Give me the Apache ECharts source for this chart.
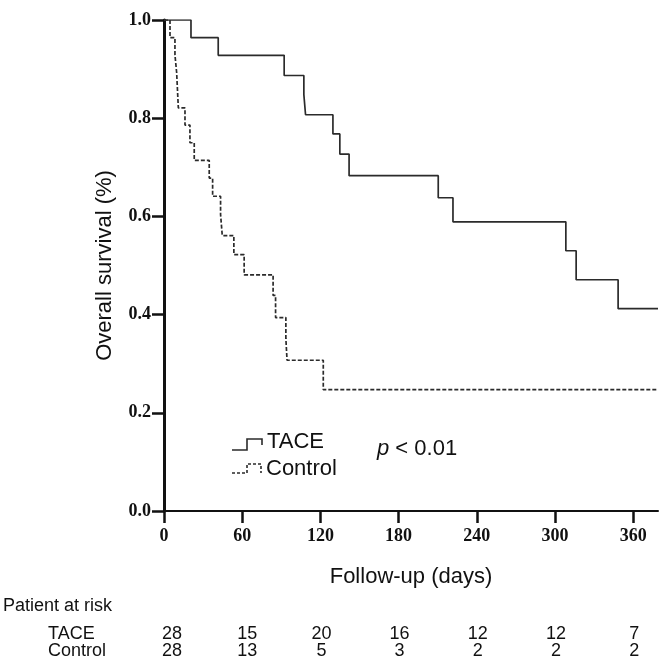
<!DOCTYPE html>
<html>
<head>
<meta charset="utf-8">
<script src="https://cdn.jsdelivr.net/npm/echarts@6/dist/echarts.min.js"></script>
<style>
html,body{margin:0;padding:0;background:#fff;}
#c{width:666px;height:657px;}
</style>
</head>
<body>
<div id="c"></div>
<script>
// ---- data ----
const xTicks = [0, 60, 120, 180, 240, 300, 360];
const taceDays = [0, 20.7, 41.6, 92.2, 107.3, 108.6, 129.6, 134.9, 142, 210.4, 221.7, 308.3, 316.2, 348.4, 379];
const taceSurv = [1, 0.964, 0.928, 0.887, 0.848, 0.807, 0.768, 0.727, 0.683, 0.638, 0.589, 0.530, 0.471, 0.412, 0.412];
const ctrlDays = [0, 4.6, 8.4, 9.7, 11.0, 16.1, 19.9, 23.2, 34.7, 37.3, 43.4, 44.7, 53.6, 61.5, 83.7, 85.6, 93.5, 94.4, 122.2, 379];
const ctrlSurv = [1, 0.964, 0.929, 0.893, 0.821, 0.786, 0.750, 0.714, 0.678, 0.641, 0.604, 0.561, 0.522, 0.481, 0.439, 0.394, 0.351, 0.307, 0.247, 0.247];
const riskGroups = ['TACE', 'Control'];
const riskTACE = [28, 15, 20, 16, 12, 12, 7];
const riskControl = [28, 13, 5, 3, 2, 2, 2];

const zip = (a, b) => a.map((v, i) => [v, b[i]]);
const serif = '"Liberation Serif", "Times New Roman", serif';
const sans = '"Liberation Sans", Arial, sans-serif';

const chart = echarts.init(document.getElementById('c'), null, {renderer: 'canvas'});
chart.setOption({
  backgroundColor: '#fff',
  animation: false,
  grid: {left: 164, right: 8, top: 20, bottom: 146, containLabel: false},
  xAxis: {
    type: 'value', min: 0, max: 379, interval: 60,
    name: 'Follow-up (days)', nameLocation: 'middle', nameGap: 55,
    nameTextStyle: {fontFamily: sans, fontSize: 22, color: '#111'},
    axisLine: {lineStyle: {color: '#111', width: 2}},
    axisTick: {length: 12, lineStyle: {color: '#111', width: 2.5}},
    axisLabel: {fontFamily: serif, fontWeight: 'bold', fontSize: 18, color: '#111', margin: 16,
      showMaxLabel: false, formatter: v => (v % 60 === 0 ? String(v) : '')},
    splitLine: {show: false}
  },
  yAxis: {
    type: 'value', min: 0, max: 1, interval: 0.2,
    name: 'Overall survival (%)', nameLocation: 'middle', nameGap: 48, nameRotate: 90,
    nameTextStyle: {fontFamily: sans, fontSize: 22, color: '#111'},
    axisLine: {show: true, lineStyle: {color: '#111', width: 3}},
    axisTick: {show: true, length: 12, lineStyle: {color: '#111', width: 2.5}},
    axisLabel: {fontFamily: serif, fontWeight: 'bold', fontSize: 18, color: '#111', margin: 13,
      formatter: v => v.toFixed(1)},
    splitLine: {show: false}
  },
  series: [
    {name: 'TACE', type: 'line', step: 'end', showSymbol: false, data: zip(taceDays, taceSurv),
      lineStyle: {color: '#2b2b2b', width: 1.7}, z: 3},
    {name: 'Control', type: 'line', step: 'end', showSymbol: false, data: zip(ctrlDays, ctrlSurv),
      lineStyle: {color: '#2b2b2b', width: 1.7, type: [4, 2]}, z: 2}
  ]
});

const g = [];
// legend
g.push({type: 'polyline', shape: {points: [[232, 450], [247, 450], [247, 439], [262, 439], [262, 445]]},
  style: {stroke: '#2b2b2b', lineWidth: 1.6, fill: null}});
g.push({type: 'polyline', shape: {points: [[232, 473], [247, 473], [247, 464], [261, 464], [261, 473]]},
  style: {stroke: '#2b2b2b', lineWidth: 1.6, fill: null, lineDash: [3, 2]}});
g.push({type: 'text', left: 267, top: 431, style: {text: 'TACE', font: '22px ' + sans, fill: '#111'}});
g.push({type: 'text', left: 266, top: 458, style: {text: 'Control', font: '22px ' + sans, fill: '#111'}});
g.push({type: 'text', left: 377, top: 438, style: {text: '{i|p} < 0.01', font: '22px ' + sans, fill: '#111',
  rich: {i: {fontStyle: 'italic', fontFamily: sans, fontSize: 22, fill: '#111'}}}});
// risk table
g.push({type: 'text', left: 3, top: 597, style: {text: 'Patient at risk', font: '18px ' + sans, fill: '#111'}});
const rows = [riskTACE, riskControl];
const rowY = [634, 651];
rows.forEach((row, r) => {
  g.push({type: 'text', x: 48, y: rowY[r], style: {text: riskGroups[r], font: '18px ' + sans, fill: '#111', textVerticalAlign: 'middle'}});
  row.forEach((v, i) => {
    const px = chart.convertToPixel({xAxisIndex: 0}, xTicks[i]) + (i === 0 ? 8 : (i === 1 ? 5 : 1));
    g.push({type: 'text', x: px, y: rowY[r], style: {text: String(v), font: '18px ' + sans, fill: '#111',
      textAlign: 'center', textVerticalAlign: 'middle'}});
  });
});
chart.setOption({graphic: g});
</script>
</body>
</html>
